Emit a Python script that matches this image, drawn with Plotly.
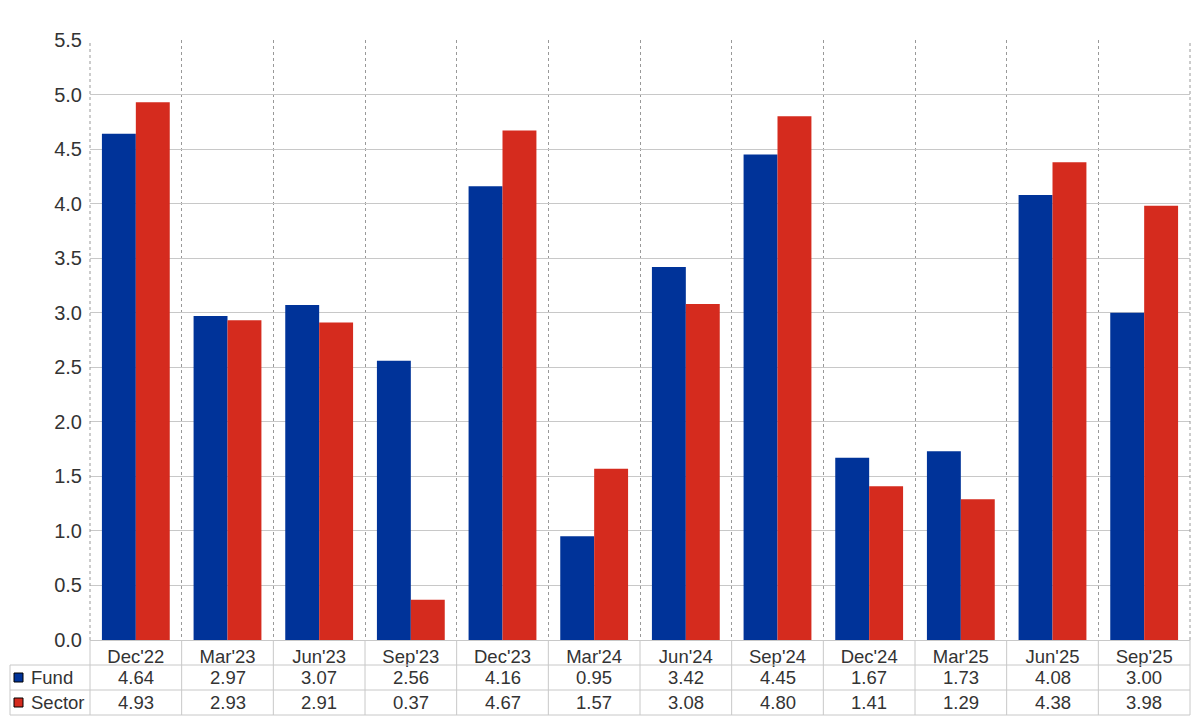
import plotly.graph_objects as go

# --- data ---
CATEGORIES = ["Dec'22", "Mar'23", "Jun'23", "Sep'23", "Dec'23", "Mar'24",
              "Jun'24", "Sep'24", "Dec'24", "Mar'25", "Jun'25", "Sep'25"]
FUND = [4.64, 2.97, 3.07, 2.56, 4.16, 0.95, 3.42, 4.45, 1.67, 1.73, 4.08, 3.00]
SECTOR = [4.93, 2.93, 2.91, 0.37, 4.67, 1.57, 3.08, 4.80, 1.41, 1.29, 4.38, 3.98]

COLOR_FUND = '#003399'
COLOR_SECTOR = '#d52b1e'
GRID = '#c8c8c8'
TEXT = '#333333'
FONT = 'Liberation Sans, Arial, sans-serif'

# plot area in pixels (for converting table rows to paper coords)
PLOT_TOP, PLOT_BOTTOM = 40, 640
PLOT_LEFT, PLOT_RIGHT = 90, 1190
PH = PLOT_BOTTOM - PLOT_TOP
PW = PLOT_RIGHT - PLOT_LEFT


def py(px):
    return (PLOT_BOTTOM - px) / PH


def px_x(px):
    return (px - PLOT_LEFT) / PW


fig = go.Figure()
fig.add_trace(go.Bar(x=CATEGORIES, y=FUND, name='Fund', marker_color=COLOR_FUND,
                     marker_line_width=0))
fig.add_trace(go.Bar(x=CATEGORIES, y=SECTOR, name='Sector', marker_color=COLOR_SECTOR,
                     marker_line_width=0))

shapes = []
# dotted edges of the plot area
for xe in (0, 1):
    shapes.append(dict(type='line', xref='paper', yref='paper', x0=xe, x1=xe, y0=0, y1=1,
                       line=dict(color='#999999', width=1, dash='dot')))

# --- data table below the plot ---
for yl in [665, 690, 715]:
    shapes.append(dict(type='line', xref='paper', yref='paper', x0=px_x(10), x1=1,
                       y0=py(yl), y1=py(yl), line=dict(color=GRID, width=1)))
shapes.append(dict(type='line', xref='paper', yref='paper', x0=px_x(10), x1=px_x(10),
                   y0=py(665), y1=py(715), line=dict(color=GRID, width=1)))
for i in range(len(CATEGORIES) + 1):
    shapes.append(dict(type='line', xref='paper', yref='paper',
                       x0=i / len(CATEGORIES), x1=i / len(CATEGORIES),
                       y0=py(640), y1=py(715), line=dict(color=GRID, width=1)))

annotations = []
rows = [('Fund', FUND, COLOR_FUND, 677.5), ('Sector', SECTOR, COLOR_SECTOR, 702.5)]
for label, vals, col, yc in rows:
    # legend key square
    shapes.append(dict(type='rect', xref='paper', yref='paper',
                       x0=px_x(14), x1=px_x(23), y0=py(yc + 4.5), y1=py(yc - 4.5),
                       fillcolor=col, line=dict(color='black', width=1)))
    annotations.append(dict(text=label, xref='paper', yref='paper', x=px_x(29), y=py(yc),
                            xanchor='left', yanchor='middle', showarrow=False,
                            font=dict(size=18.5, color=TEXT, family=FONT)))
    for c, v in zip(CATEGORIES, vals):
        annotations.append(dict(text=f"{v:.2f}", xref='x', yref='paper', x=c, y=py(yc),
                                xanchor='center', yanchor='middle', showarrow=False,
                                font=dict(size=18.5, color=TEXT, family=FONT)))

fig.update_layout(
    width=1200, height=720,
    margin=dict(l=PLOT_LEFT, r=1200 - PLOT_RIGHT, t=PLOT_TOP, b=720 - PLOT_BOTTOM,
                autoexpand=False),
    barmode='group', bargap=0.26, bargroupgap=0,
    plot_bgcolor='white', paper_bgcolor='white',
    showlegend=False,
    font=dict(family=FONT, color=TEXT),
    shapes=shapes, annotations=annotations,
)
fig.update_xaxes(
    type='category', range=[-0.5, len(CATEGORIES) - 0.5],
    tickson='boundaries', ticks='', showgrid=True, gridcolor='#999999',
    griddash='dot', gridwidth=1, showline=True, linecolor=GRID, linewidth=1,
    tickfont=dict(size=18.5, color=TEXT, family=FONT),
)
fig.update_yaxes(
    range=[0, 5.5], dtick=0.5, tickformat='.1f', showgrid=True, gridcolor=GRID,
    gridwidth=1, zeroline=False, ticks='', ticklabelstandoff=7,
    tickfont=dict(size=20, color=TEXT, family=FONT),
)

fig.write_html("out.html", config={'displayModeBar': False},
               post_script="document.body.style.margin='0';")
